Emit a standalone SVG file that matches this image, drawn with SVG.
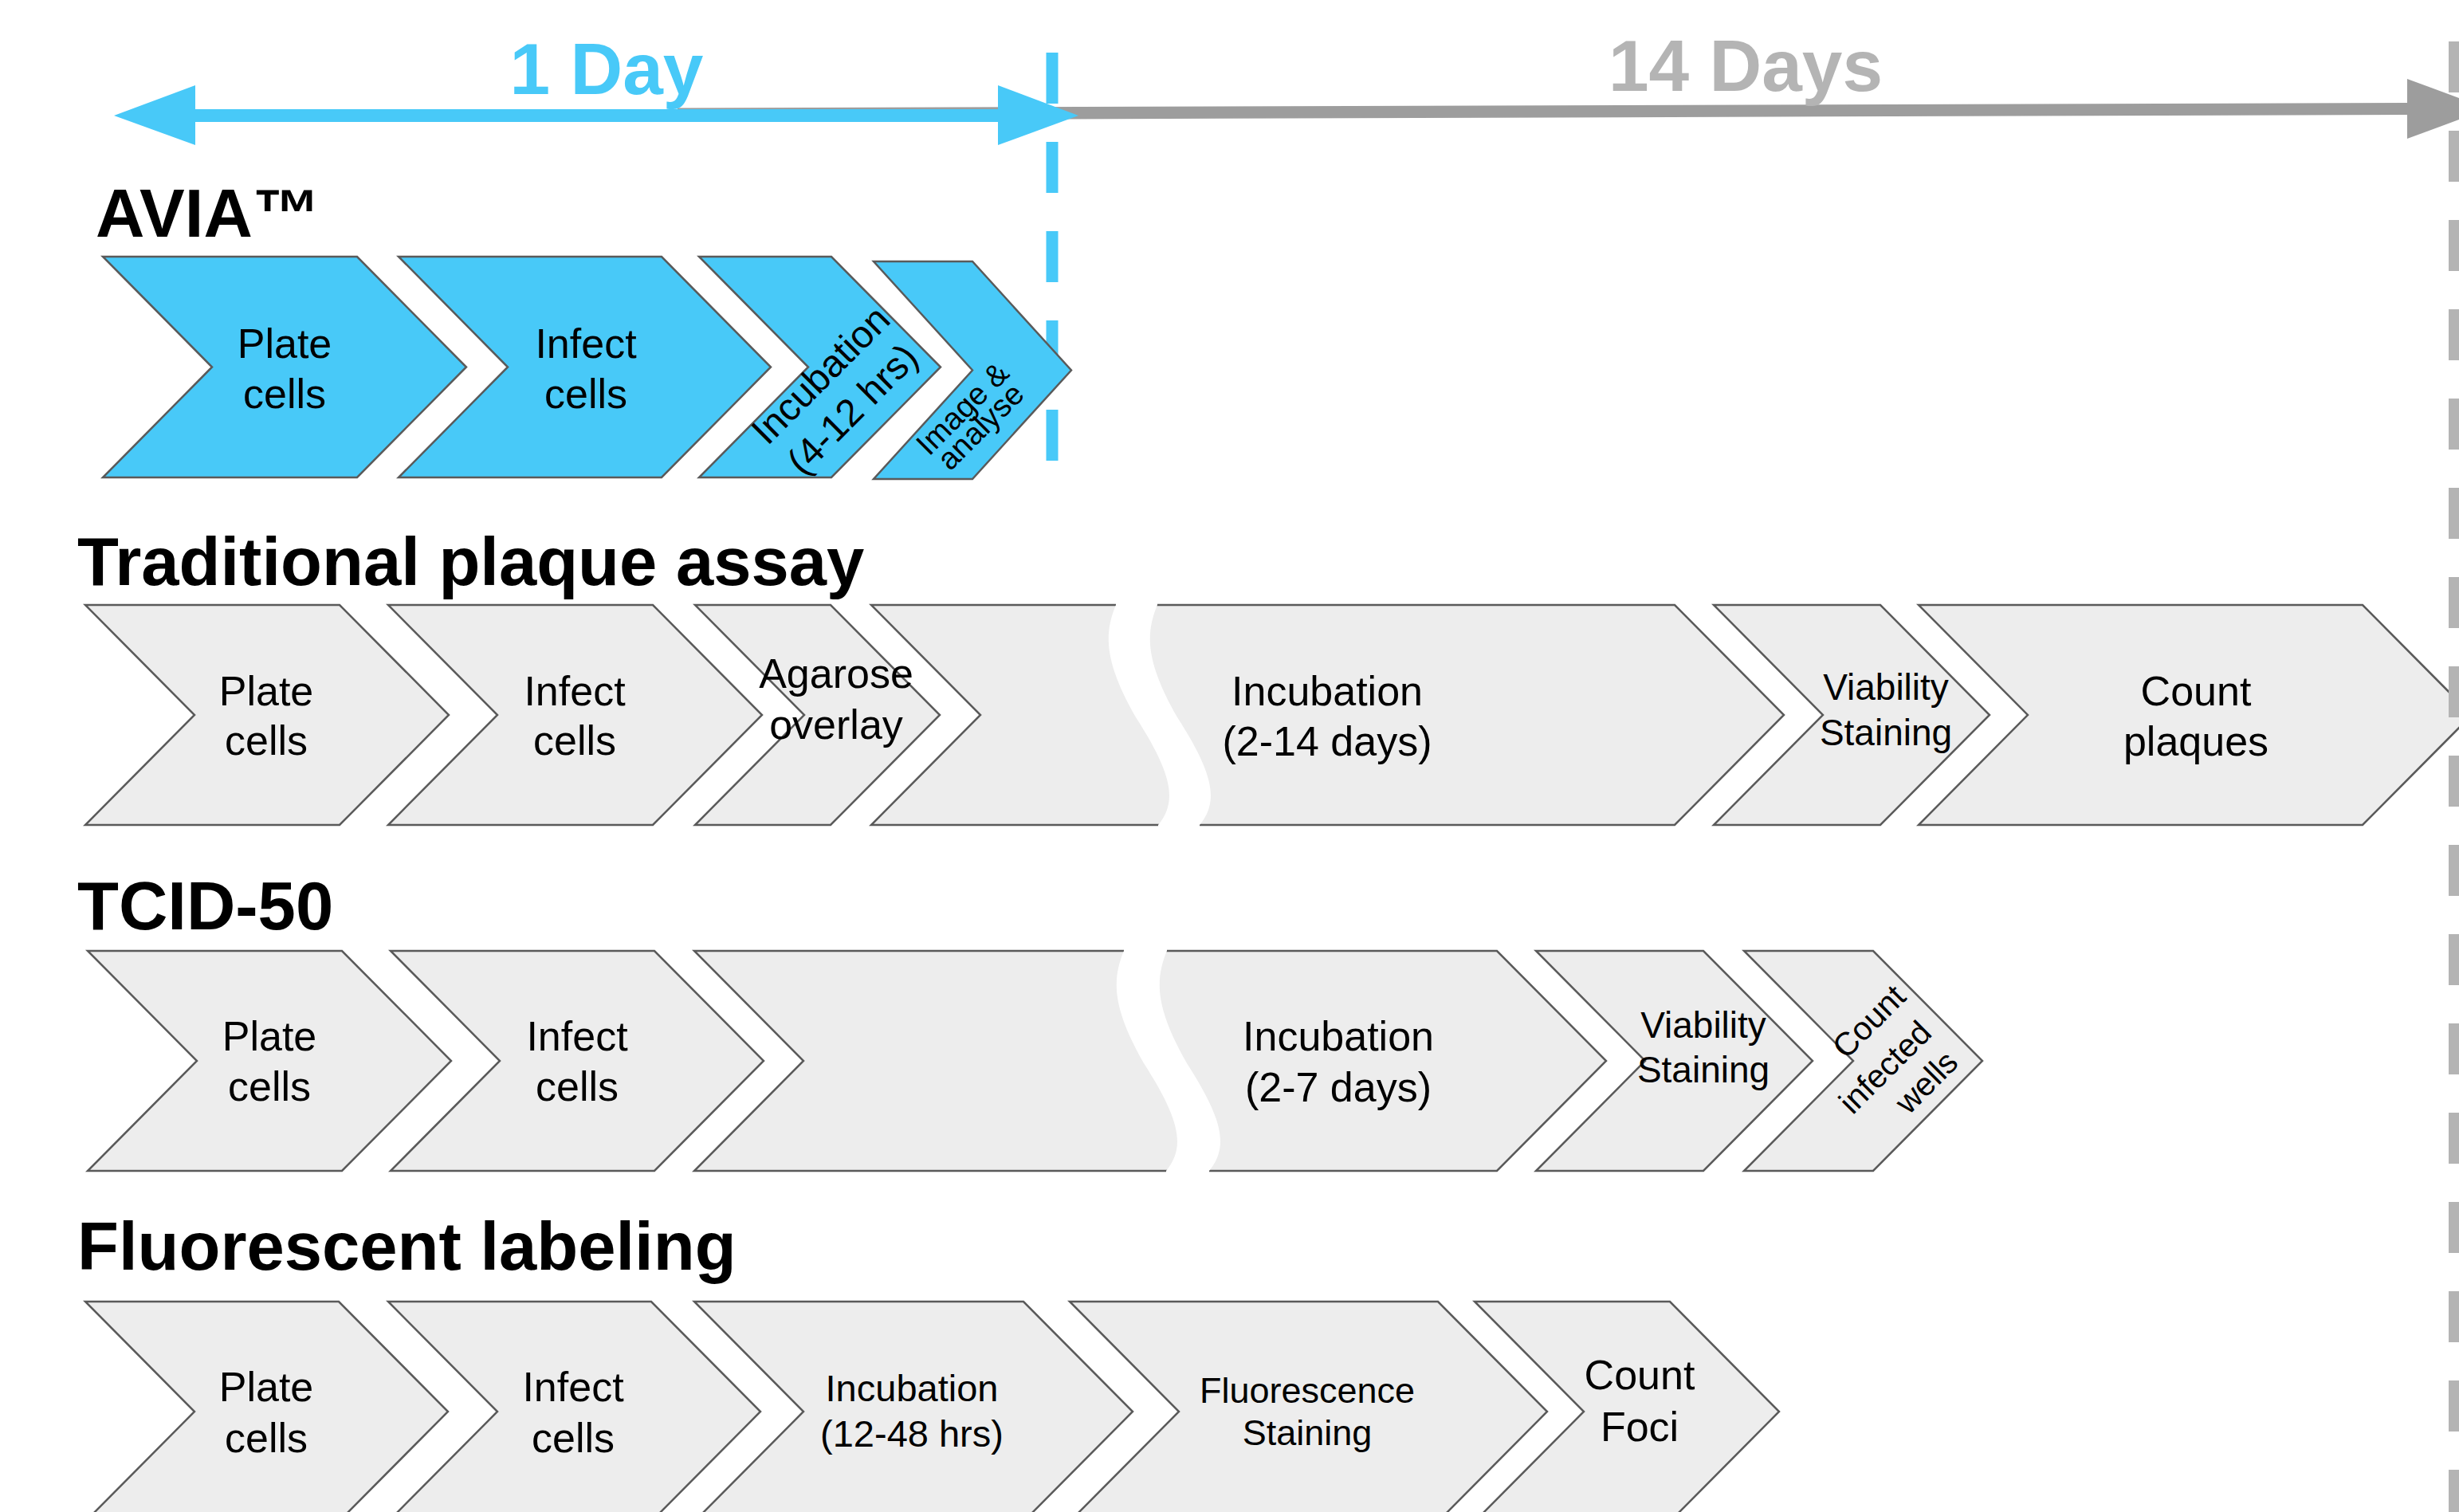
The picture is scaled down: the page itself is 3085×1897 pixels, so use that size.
<svg xmlns="http://www.w3.org/2000/svg" width="3085" height="1897" viewBox="0 0 3085 1897">
  <style>
    .title { font-family: "Liberation Sans", Arial, sans-serif; font-weight: bold; font-size: 85px; fill: #000; }
    .span  { font-family: "Liberation Sans", Arial, sans-serif; font-weight: bold; font-size: 91px; }
    .lbl   { font-family: "Liberation Sans", Arial, sans-serif; font-size: 52px; fill: #000; text-anchor: middle; }
    .blue  { fill: #48C9F8; stroke: #5a5a5a; stroke-width: 2.5; stroke-linejoin: miter; }
    .grey  { fill: #EDEDED; stroke: #5a5a5a; stroke-width: 2.5; stroke-linejoin: miter; }
    .gap   { fill: #FFFFFF; stroke: none; }
  </style>

  <rect width="3085" height="1897" fill="#FFFFFF"/>

  <!-- time scale: arrows, span labels and boundary lines -->
  <g id="connectors">
    <!-- 14 day span -->
    <polygon points="850,135.5 3020,129 3020,144 850,151" fill="#9D9D9D"/>
    <polygon points="3020,99 3122,136.5 3020,174" fill="#9D9D9D"/>
    <!-- 1 day span (double headed) -->
    <rect x="240" y="137" width="1017" height="16" fill="#48C9F8"/>
    <polygon points="143,145 245,107 245,182" fill="#48C9F8"/>
    <polygon points="1353,145 1252,107 1252,182" fill="#48C9F8"/>
    <!-- end of day one -->
    <line id="day1-limit" x1="1320" y1="66" x2="1320" y2="578" stroke="#48C9F8" stroke-width="15" stroke-dasharray="64 48"/>
  </g>
  <text class="span" x="761" y="118" text-anchor="middle" fill="#48C9F8">1 Day</text>
  <text class="span" x="2190" y="114" text-anchor="middle" fill="#B4B4B4">14 Days</text>

  <!-- AVIA -->
  <text class="title" x="120" y="297">AVIA™</text>
  <g id="avia-plate">
    <path class="blue" d="M129,322 L448,322 L585,460.5 L448,599 L129,599 L266,460.5 Z"/>
    <text class="lbl" x="357" y="449">Plate</text>
    <text class="lbl" x="357" y="512">cells</text>
  </g>
  <g id="avia-infect">
    <path class="blue" d="M500,322 L830,322 L967,460.5 L830,599 L500,599 L637,460.5 Z"/>
    <text class="lbl" x="735" y="449">Infect</text>
    <text class="lbl" x="735" y="512">cells</text>
  </g>
  <g id="avia-incubation">
    <path class="blue" d="M877,322 L1043,322 L1180,460.5 L1043,599 L877,599 L1014,460.5 Z"/>
    <text class="lbl" style="font-size:48px" transform="translate(1029,470) rotate(-45)" y="17">Incubation</text>
    <text class="lbl" style="font-size:48px" transform="translate(1069,513) rotate(-45)" y="17">(4-12 hrs)</text>
  </g>
  <g id="avia-image">
    <path class="blue" d="M1096,328 L1220,328 L1344,464.5 L1220,601 L1096,601 L1220,464.5 Z"/>
    <text class="lbl" style="font-size:39px" transform="translate(1207,512) rotate(-45)" y="14">Image &amp;</text>
    <text class="lbl" style="font-size:39px" transform="translate(1231,536) rotate(-45)" y="12">analyse</text>
  </g>

  <!-- Traditional plaque assay -->
  <text class="title" x="97" y="734">Traditional plaque assay</text>
  <g id="tpa-plate">
    <path class="grey" d="M107,759 L426,759 L563,897 L426,1035 L107,1035 L244,897 Z"/>
    <text class="lbl" x="334" y="885">Plate</text>
    <text class="lbl" x="334" y="947">cells</text>
  </g>
  <g id="tpa-infect">
    <path class="grey" d="M487,759 L819,759 L956,897 L819,1035 L487,1035 L624,897 Z"/>
    <text class="lbl" x="721" y="885">Infect</text>
    <text class="lbl" x="721" y="947">cells</text>
  </g>
  <g id="tpa-agarose">
    <path class="grey" d="M872,759 L1042,759 L1179,897 L1042,1035 L872,1035 L1009,897 Z"/>
    <text class="lbl" x="1049" y="863">Agarose</text>
    <text class="lbl" x="1049" y="927">overlay</text>
  </g>
  <g id="tpa-incubation">
    <path class="grey" d="M1093,759 L2101,759 L2238,897 L2101,1035 L1093,1035 L1230,897 Z"/>
    <path class="gap" d="M1400,752 L1400,759 C1385,795 1385,830 1425,900 C1470,970 1478,1005 1453,1035 L1453,1042 L1505,1042 L1505,1035 C1530,1005 1522,970 1477,900 C1437,830 1437,795 1452,759 L1452,752 Z"/>
    <text class="lbl" x="1665" y="885">Incubation</text>
    <text class="lbl" x="1665" y="948">(2-14 days)</text>
  </g>
  <g id="tpa-viability">
    <path class="grey" d="M2150,759 L2359,759 L2496,897 L2359,1035 L2150,1035 L2287,897 Z"/>
    <text class="lbl" style="font-size:46px" x="2366" y="878">Viability</text>
    <text class="lbl" style="font-size:46px" x="2366" y="935">Staining</text>
  </g>
  <g id="tpa-count">
    <path class="grey" d="M2407,759 L2964,759 L3101,897 L2964,1035 L2407,1035 L2544,897 Z"/>
    <text class="lbl" x="2755" y="885">Count</text>
    <text class="lbl" x="2755" y="948">plaques</text>
  </g>

  <!-- TCID-50 -->
  <text class="title" x="97" y="1166">TCID-50</text>
  <g id="tcid-plate">
    <path class="grey" d="M110,1193 L429,1193 L566,1331 L429,1469 L110,1469 L247,1331 Z"/>
    <text class="lbl" x="338" y="1318">Plate</text>
    <text class="lbl" x="338" y="1381">cells</text>
  </g>
  <g id="tcid-infect">
    <path class="grey" d="M490,1193 L821,1193 L958,1331 L821,1469 L490,1469 L627,1331 Z"/>
    <text class="lbl" x="724" y="1318">Infect</text>
    <text class="lbl" x="724" y="1381">cells</text>
  </g>
  <g id="tcid-incubation">
    <path class="grey" d="M871,1193 L1878,1193 L2015,1331 L1878,1469 L871,1469 L1008,1331 Z"/>
    <path class="gap" d="M1410,1186 L1410,1193 C1395,1229 1395,1264 1435,1334 C1480,1404 1488,1439 1463,1469 L1463,1476 L1517,1476 L1517,1469 C1542,1439 1534,1404 1489,1334 C1449,1264 1449,1229 1464,1193 L1464,1186 Z"/>
    <text class="lbl" x="1679" y="1318">Incubation</text>
    <text class="lbl" x="1679" y="1382">(2-7 days)</text>
  </g>
  <g id="tcid-viability">
    <path class="grey" d="M1927,1193 L2137,1193 L2274,1331 L2137,1469 L1927,1469 L2064,1331 Z"/>
    <text class="lbl" style="font-size:46px" x="2137" y="1302">Viability</text>
    <text class="lbl" style="font-size:46px" x="2137" y="1358">Staining</text>
  </g>
  <g id="tcid-count">
    <path class="grey" d="M2188,1193 L2350,1193 L2487,1331 L2350,1469 L2188,1469 L2325,1331 Z"/>
    <text class="lbl" style="font-size:41px" transform="translate(2344,1281) rotate(-45)" y="15">Count</text>
    <text class="lbl" style="font-size:41px" transform="translate(2365,1339) rotate(-45)" y="14">infected</text>
    <text class="lbl" style="font-size:41px" transform="translate(2416,1357) rotate(-45)" y="15">wells</text>
  </g>

  <!-- Fluorescent labeling -->
  <text class="title" x="97" y="1593">Fluorescent labeling</text>
  <g id="fl-plate">
    <path class="grey" d="M107,1633 L425,1633 L562,1771 L425,1909 L107,1909 L244,1771 Z"/>
    <text class="lbl" x="334" y="1758">Plate</text>
    <text class="lbl" x="334" y="1822">cells</text>
  </g>
  <g id="fl-infect">
    <path class="grey" d="M487,1633 L817,1633 L954,1771 L817,1909 L487,1909 L624,1771 Z"/>
    <text class="lbl" x="719" y="1758">Infect</text>
    <text class="lbl" x="719" y="1822">cells</text>
  </g>
  <g id="fl-incubation">
    <path class="grey" d="M871,1633 L1284,1633 L1421,1771 L1284,1909 L871,1909 L1008,1771 Z"/>
    <text class="lbl" style="font-size:47px" x="1144" y="1758">Incubation</text>
    <text class="lbl" style="font-size:47px" x="1144" y="1815">(12-48 hrs)</text>
  </g>
  <g id="fl-staining">
    <path class="grey" d="M1342,1633 L1804,1633 L1941,1771 L1804,1909 L1342,1909 L1479,1771 Z"/>
    <text class="lbl" style="font-size:45px" x="1640" y="1760">Fluorescence</text>
    <text class="lbl" style="font-size:45px" x="1640" y="1813">Staining</text>
  </g>
  <g id="fl-count">
    <path class="grey" d="M1850,1633 L2095,1633 L2232,1771 L2095,1909 L1850,1909 L1987,1771 Z"/>
    <text class="lbl" x="2057" y="1743">Count</text>
    <text class="lbl" x="2057" y="1808">Foci</text>
  </g>

  <!-- end of day fourteen -->
  <g id="day14-limit">
    <line x1="3079" y1="52" x2="3079" y2="1897" stroke="#B4B4B4" stroke-width="14" stroke-dasharray="64 48"/>
  </g>
</svg>
